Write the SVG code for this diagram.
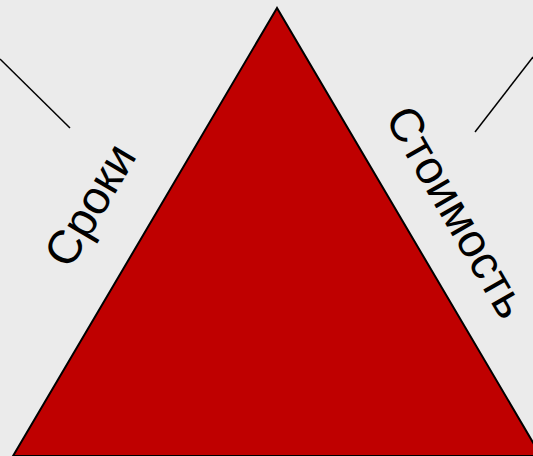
<svg xmlns="http://www.w3.org/2000/svg" width="533" height="456" viewBox="0 0 533 456">
<style>
.lbl{font-family:"Liberation Sans",Arial,sans-serif;font-size:47px;fill:#000;text-anchor:middle}
.ln{stroke:#000;stroke-width:1.5;fill:none}
</style>
<rect width="533" height="456" fill="#ebebeb"/>
<g id="triangle">
<polygon points="277,8 13,456 541,456" fill="#bf0000" stroke="#000" stroke-width="2" stroke-linejoin="miter"/>
</g>
<g id="connectors">
<line class="ln" x1="0" y1="59" x2="70" y2="128"/>
<line class="ln" x1="533" y1="57" x2="475" y2="132"/>
</g>
<g id="label-sroki">
<text class="lbl" transform="translate(90,205) rotate(-59.5)" y="16">Сроки</text>
</g>
<g id="label-stoimost">
<text class="lbl" x="0" y="16" transform="translate(457,212) rotate(60)" font-size="48">Стоимость</text>
</g>
</svg>
